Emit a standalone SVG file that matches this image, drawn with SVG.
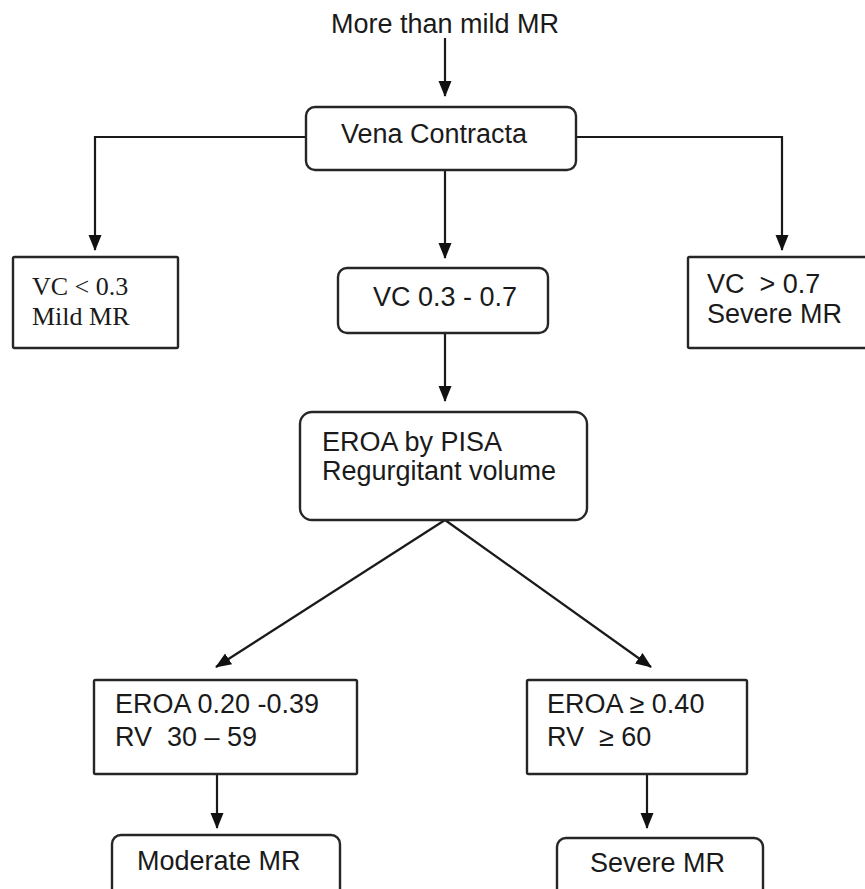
<svg xmlns="http://www.w3.org/2000/svg" width="865" height="889" viewBox="0 0 865 889">
<style>
  .box { fill: #ffffff; stroke: #262626; stroke-width: 2.4; }
  .t { font-family: "Liberation Sans", Arial, sans-serif; font-size: 27px; fill: #1a1a1a; white-space: pre; }
  .ts { font-family: "Liberation Serif", "Times New Roman", serif; font-size: 26px; fill: #1a1a1a; white-space: pre; }
  .c { fill: none; stroke: #1a1a1a; stroke-width: 2.2; }
</style>
<defs>
  <marker id="ah" markerUnits="userSpaceOnUse" markerWidth="16" markerHeight="16" viewBox="0 0 16 16" refX="15" refY="8" orient="auto">
    <path d="M0,1.5 L16,8 L0,14.5 Z" fill="#111"/>
  </marker>
</defs>
<rect width="865" height="889" fill="#ffffff"/>

<g id="connectors">
  <line class="c" x1="445" y1="38" x2="445" y2="96" marker-end="url(#ah)"/>
  <polyline class="c" points="306,137 95,137 95,250" marker-end="url(#ah)"/>
  <line class="c" x1="445" y1="170" x2="445" y2="258" marker-end="url(#ah)"/>
  <polyline class="c" points="576,137 782,137 782,250" marker-end="url(#ah)"/>
  <line class="c" x1="445" y1="333" x2="445" y2="401" marker-end="url(#ah)"/>
  <line class="c" x1="445" y1="520" x2="216" y2="667" marker-end="url(#ah)"/>
  <line class="c" x1="445" y1="520" x2="651" y2="667" marker-end="url(#ah)"/>
  <line class="c" x1="217" y1="774" x2="217" y2="828" marker-end="url(#ah)"/>
  <line class="c" x1="647" y1="774" x2="647" y2="828" marker-end="url(#ah)"/>
</g>

<g id="start">
  <text class="t" x="445" y="33" text-anchor="middle">More than mild MR</text>
</g>

<g id="vena-contracta">
  <rect class="box" x="306" y="107" width="270" height="63" rx="9"/>
  <text class="t" x="434" y="143" text-anchor="middle">Vena Contracta</text>
</g>

<g id="vc-mild">
  <rect class="box" x="13" y="257" width="165" height="91" rx="1.5"/>
  <text class="ts" x="32" y="295">VC &lt; 0.3</text>
  <text class="ts" x="32" y="325">Mild MR</text>
</g>

<g id="vc-mid">
  <rect class="box" x="338" y="268" width="210" height="65" rx="9"/>
  <text class="t" x="373" y="306" font-size="26">VC 0.3 - 0.7</text>
</g>

<g id="vc-severe">
  <rect class="box" x="688" y="257" width="190" height="91" rx="1.5"/>
  <text class="t" x="707" y="293" font-size="26">VC  &gt; 0.7</text>
  <text class="t" x="707" y="323" font-size="26">Severe MR</text>
</g>

<g id="eroa-pisa">
  <rect class="box" x="300" y="412" width="287" height="108" rx="12"/>
  <text class="t" x="322" y="451">EROA by PISA</text>
  <text class="t" x="322" y="480">Regurgitant volume</text>
</g>

<g id="eroa-moderate">
  <rect class="box" x="94" y="680" width="263" height="94" rx="1.5"/>
  <text class="t" x="115" y="713">EROA 0.20 -0.39</text>
  <text class="t" x="115" y="746">RV  30 – 59</text>
</g>

<g id="eroa-severe">
  <rect class="box" x="527" y="680" width="220" height="94" rx="1.5"/>
  <text class="t" x="547" y="713">EROA ≥ 0.40</text>
  <text class="t" x="547" y="746">RV  ≥ 60</text>
</g>

<g id="moderate-mr">
  <rect class="box" x="112" y="835" width="228" height="70" rx="9"/>
  <text class="t" x="137" y="870">Moderate MR</text>
</g>

<g id="severe-mr">
  <rect class="box" x="557" y="838" width="206" height="70" rx="9"/>
  <text class="t" x="590" y="872">Severe MR</text>
</g>
</svg>
